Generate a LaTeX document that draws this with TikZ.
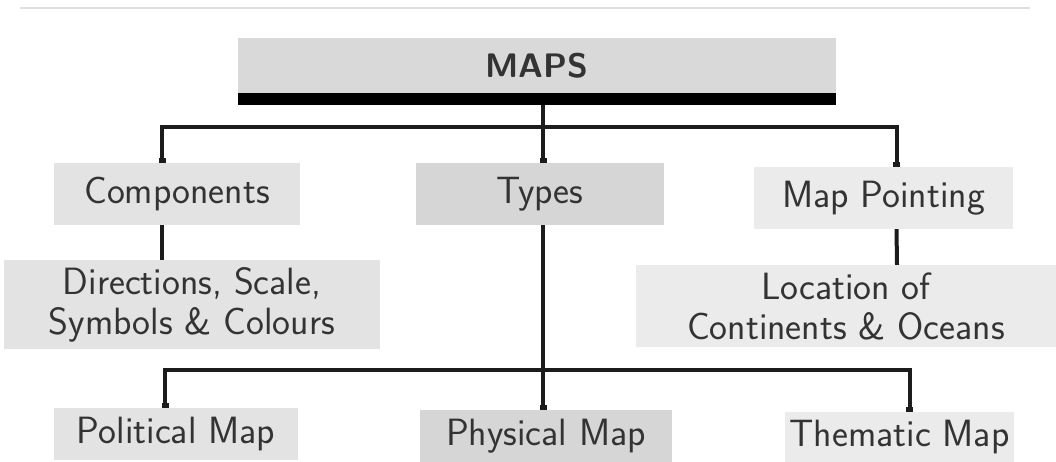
\documentclass[tikz,border=0pt]{standalone}
\usepackage{tikz}
\usepackage{xcolor}
\usetikzlibrary{arrows.meta}
\definecolor{boxA}{HTML}{D9D9D9}
\definecolor{boxB}{HTML}{E3E3E3}
\definecolor{boxC}{HTML}{D6D6D6}
\definecolor{boxD}{HTML}{EBEBEB}
\definecolor{ink}{HTML}{1C1C1C}

\begin{document}
\begin{tikzpicture}[x=1pt,y=-1pt]
			\tikzset{every node/.style={rectangle, inner sep=0pt, align=center, text=ink!90,
				font=\sffamily\fontsize{38}{40}\selectfont},
				link/.style={draw=ink, line width=4pt},
				drop/.style={link, -{Square[length=5pt,width=7pt]}}}
\useasboundingbox (0,0) rectangle (1056,462);
\draw[gray!25, line width=2pt] (20,8) -- (1030,8);

\node[fill=boxA, minimum width=598pt, minimum height=55pt,
	font=\sffamily\bfseries\fontsize{34}{40}\selectfont] (maps) at (537,65.5) {MAPS};
\node[fill=black, minimum width=598pt, minimum height=12pt] (bar) at (537,99) {};

\node[fill=boxB, minimum width=246pt, minimum height=62pt] (comp) at (177,194) {Components};
\node[fill=boxC, minimum width=248pt, minimum height=62pt] (types) at (540,194) {Types};
\node[fill=boxD, minimum width=259pt, minimum height=62pt] (point) at (883.5,198) {Map Pointing};

\node[fill=boxB, minimum width=376pt, minimum height=89pt] (dir) at (192,304.5) {Directions, Scale,\\Symbols \& Colours};
\node[fill=boxD, minimum width=420pt, minimum height=82pt] (loc) at (846,306) {Location of\\Continents \& Oceans};

\node[fill=boxB, minimum width=244pt, minimum height=52pt] (pol) at (176,434) {Political Map};
\node[fill=boxC, minimum width=252pt, minimum height=52pt] (phys) at (546,436) {Physical Map};
\node[fill=boxD, minimum width=229pt, minimum height=50pt] (them) at (899.5,437) {Thematic Map};

\coordinate (hubA) at (543,127);
\coordinate (hubB) at (543,370);

\draw[link] (bar.south -| hubA) -- (hubA);
\foreach \to/\dx in {comp/-15,types/3,point/13}
{
	\draw[drop] (hubA) -| ([xshift=\dx pt]\to.north);
}
\draw[link] ([xshift=-15pt]comp.south) -- ([xshift=-30pt]dir.north);
\draw[link] ([xshift=13pt]point.south) -- ([xshift=51pt]loc.north);
\draw[drop] ([xshift=3pt]types.south) -- ([xshift=-3pt]phys.north);
\foreach \to/\dx in {pol/-11,them/10}
{
	\draw[drop] (hubB) -| ([xshift=\dx pt]\to.north);
}

		\end{tikzpicture}
\end{document}
